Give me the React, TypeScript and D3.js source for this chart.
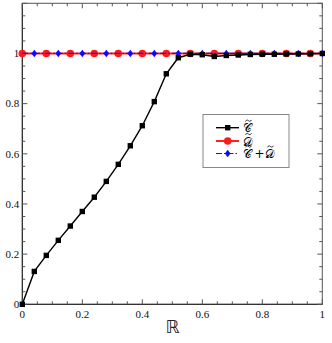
import React from "react";
import * as d3 from "d3";

const W = 332, H = 343;
const margin = { left: 22.3, right: 9.7, top: 3.3, bottom: 38.7 };

// Series C (black squares), x step 0.04
const cX = [0, 0.04, 0.08, 0.12, 0.16, 0.2, 0.24, 0.28, 0.32, 0.36, 0.4, 0.44, 0.48, 0.52, 0.56, 0.6, 0.64, 0.68, 0.72, 0.76, 0.8, 0.84, 0.88, 0.92, 0.96, 1.0];
const cY = [0, 0.131, 0.195, 0.255, 0.312, 0.37, 0.427, 0.49, 0.558, 0.632, 0.712, 0.808, 0.919, 0.983, 0.997, 0.995, 0.988, 0.992, 0.994, 0.996, 0.997, 0.997, 0.998, 0.998, 0.999, 1.0];
// Series D (red circles)
const dX = [0, 0.08, 0.16, 0.24, 0.32, 0.4, 0.48, 0.56, 0.64, 0.72, 0.8, 0.88, 0.96];
const dY = [1, 1, 1, 1, 1, 1, 1, 1, 1, 1, 1, 1, 1];
// Series C + D (blue diamonds)
const sX = [0.04, 0.12, 0.2, 0.28, 0.36, 0.44, 0.52, 0.6, 0.68, 0.76, 0.84, 0.92, 1.0];
const sY = [1, 1, 1, 1, 1, 1, 1, 1, 1, 1, 1, 1, 1];

const xTickLabels = [0, 0.2, 0.4, 0.6, 0.8, 1];
const yTickLabels = [0, 0.2, 0.4, 0.6, 0.8, 1];
const xLabel = "ℝ";
const legendC = "𝒞";
const legendD = "𝒟";
const legendPlus = "+";

export default function App() {
  const x = d3.scaleLinear().domain([0, 1]).range([margin.left, W - margin.right]);
  const y = d3.scaleLinear().domain([0, 1.2]).range([H - margin.bottom, margin.top]);
  const x0 = x(0), x1 = x(1), y0 = y(0), y1 = y(1.2);

  const minorX = d3.range(0, 1.0001, 0.05);
  const minorY = d3.range(0, 1.2001, 0.05);
  const isMajor = (v: number) => Math.abs(v * 5 - Math.round(v * 5)) < 1e-6;

  const line = d3.line<[number, number]>().x(d => x(d[0])).y(d => y(d[1]));
  const cPts: [number, number][] = cX.map((v, i) => [v, cY[i]]);
  const dPts: [number, number][] = dX.map((v, i) => [v, dY[i]]);
  const sPts: [number, number][] = sX.map((v, i) => [v, sY[i]]);
  const dLine: [number, number][] = [[0, 1], [1, 1]];
  const sLine: [number, number][] = [[0, 1], [1, 1]];

  const diamond = (cx: number, cy: number, r: number) =>
    `M${cx},${cy - r}L${cx + r * 0.75},${cy}L${cx},${cy + r}L${cx - r * 0.75},${cy}Z`;

  const font = "'Liberation Serif', 'DejaVu Serif', serif";
  const axisColor = "#555";

  const lg = { x: 203, y: 114.5, w: 86, h: 53 };
  const rows = [127.7, 141, 153.5];

  const tilde = (cx: number, cy: number) => (
    <path d={`M${cx - 3},${cy + 0.8}C${cx - 1.8},${cy - 1.4} ${cx - 0.8},${cy - 0.6} ${cx},${cy}S${cx + 1.8},${cy + 1.4} ${cx + 3},${cy - 0.8}`}
      fill="none" stroke="#000" strokeWidth={0.8} />
  );
  const letter = (lx: number, ly: number, s: string) => (
    <g>
      <text x={lx} y={ly} fontFamily="'DejaVu Serif', serif" fontSize={12} fill="#000">{s}</text>
      {tilde(lx + 5.5, ly - 11.5)}
    </g>
  );

  return (
    <svg width={W} height={H} style={{ position: "absolute", left: 0, top: 0, background: "#fff" }}>
      {/* frame */}
      <rect x={x0} y={y1} width={x1 - x0} height={y0 - y1} fill="none" stroke={axisColor} strokeWidth={1} />
      <line x1={x0} x2={x0} y1={y1} y2={y0} stroke="#222" strokeWidth={1} />
      <line x1={x0} x2={x1} y1={y0} y2={y0} stroke="#222" strokeWidth={1} />
      {minorX.map((v, i) => {
        const len = isMajor(v) ? 5 : 3;
        return (
          <g key={"xt" + i}>
            <line x1={x(v)} x2={x(v)} y1={y0} y2={y0 - len} stroke={axisColor} />
            <line x1={x(v)} x2={x(v)} y1={y1} y2={y1 + len} stroke={axisColor} />
          </g>
        );
      })}
      {minorY.map((v, i) => {
        const len = isMajor(v) ? 5 : 3;
        return (
          <g key={"yt" + i}>
            <line x1={x0} x2={x0 + len} y1={y(v)} y2={y(v)} stroke={axisColor} />
            <line x1={x1} x2={x1 - len} y1={y(v)} y2={y(v)} stroke={axisColor} />
          </g>
        );
      })}
      {xTickLabels.map((v, i) => (
        <text key={"xl" + i} x={x(v)} y={y0 + 14} textAnchor="middle" fontFamily={font} fontSize={11} fill="#111">
          {String(v)}
        </text>
      ))}
      {yTickLabels.map((v, i) => (
        <text key={"yl" + i} x={x0 - 3} y={y(v) + 3.8} textAnchor="end" fontFamily={font} fontSize={11} fill="#111">
          {String(v)}
        </text>
      ))}
      <text x={(x0 + x1) / 2} y={333} textAnchor="middle" fontFamily="'DejaVu Sans', sans-serif" fontSize={18} fill="#222">
        {xLabel}
      </text>

      {/* series D (red) */}
      <path d={line(dLine) || ""} fill="none" stroke="#ff2020" strokeWidth={2} />
      {dPts.map((p, i) => (
        <circle key={"d" + i} cx={x(p[0])} cy={y(p[1])} r={3.8} fill="#ff1a1a" />
      ))}
      {/* series C+D (blue) */}
      <path d={line(sLine) || ""} fill="none" stroke="#1010ff" strokeWidth={1.2} strokeDasharray="6,2,1.5,2" />
      {sPts.map((p, i) => (
        <path key={"s" + i} d={diamond(x(p[0]), y(p[1]), 3.8)} fill="#0a0aff" />
      ))}
      {/* series C (black) */}
      <path d={line(cPts) || ""} fill="none" stroke="#000" strokeWidth={1.4} />
      {cPts.map((p, i) => (
        <rect key={"c" + i} x={x(p[0]) - 2.7} y={y(p[1]) - 2.7} width={5.4} height={5.4} fill="#000" />
      ))}

      {/* legend */}
      <rect x={lg.x} y={lg.y} width={lg.w} height={lg.h} fill="#fff" stroke="#888" strokeWidth={1} />
      <line x1={216} x2={239} y1={rows[0]} y2={rows[0]} stroke="#000" strokeWidth={1.4} />
      <rect x={227.7 - 2.7} y={rows[0] - 2.7} width={5.4} height={5.4} fill="#000" />
      <line x1={216} x2={239} y1={rows[1]} y2={rows[1]} stroke="#ff2020" strokeWidth={2} strokeDasharray="9,2,1.5,2" />
      <circle cx={227.7} cy={rows[1]} r={3.8} fill="#ff1a1a" />
      <line x1={216} x2={239} y1={rows[2]} y2={rows[2]} stroke="#1010ff" strokeWidth={1.2} strokeDasharray="6,2,1.5,2" />
      <path d={diamond(227.7, rows[2], 3.8)} fill="#0a0aff" />
      {letter(243, rows[0] + 4.5, legendC)}
      {letter(243, rows[1] + 4.5, legendD)}
      {letter(243, rows[2] + 4.5, legendC)}
      <text x={254.5} y={rows[2] + 4.5} fontFamily="'DejaVu Serif', serif" fontSize={12} fill="#000">{legendPlus}</text>
      {letter(265, rows[2] + 4.5, legendD)}
    </svg>
  );
}
